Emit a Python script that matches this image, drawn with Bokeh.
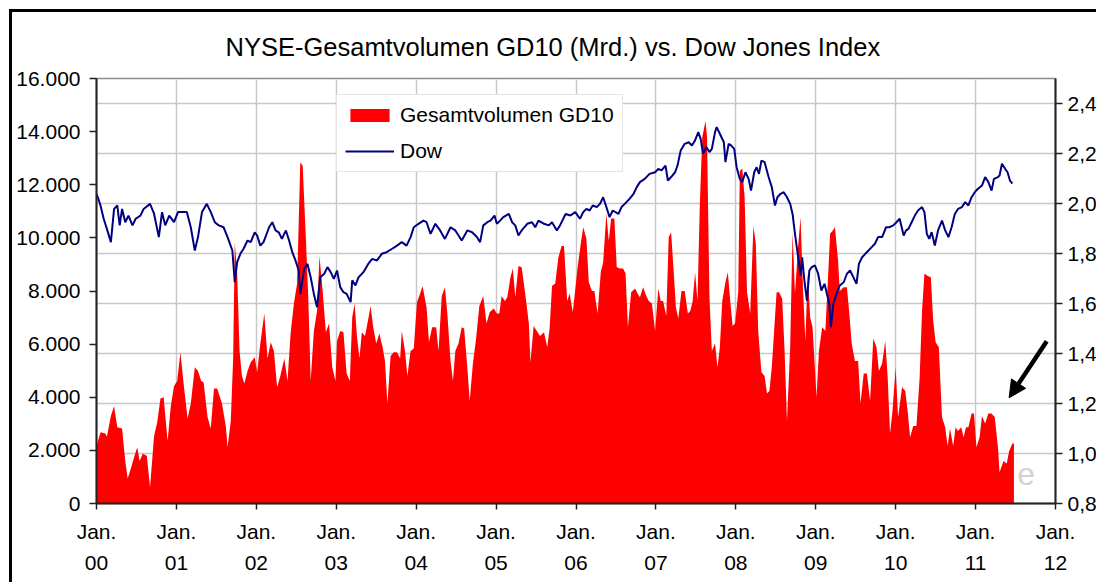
from bokeh.plotting import figure
from bokeh.models import Range1d, LinearAxis, FixedTicker, Arrow, NormalHead, Label
from bokeh.embed import file_html
from bokeh.resources import INLINE

FONT = "Liberation Sans"

# ---------------- data ----------------
title_text = "NYSE-Gesamtvolumen GD10 (Mrd.) vs. Dow Jones Index"
years = list(range(2000, 2013))
x_month_labels = ["Jan."] * 13
x_year_labels = ["00", "01", "02", "03", "04", "05", "06", "07", "08", "09", "10", "11", "12"]
left_ticks = [0, 2000, 4000, 6000, 8000, 10000, 12000, 14000, 16000]
left_labels = ["0", "2.000", "4.000", "6.000", "8.000", "10.000", "12.000", "14.000", "16.000"]
right_ticks = [0.8, 1.0, 1.2, 1.4, 1.6, 1.8, 2.0, 2.2, 2.4]
right_labels = ["0,8", "1,0", "1,2", "1,4", "1,6", "1,8", "2,0", "2,2", "2,4"]

# NYSE total volume, 10-day average (billions)
vol_year = [
    2000.00, 2000.05, 2000.11, 2000.13, 2000.18, 2000.22, 2000.26, 2000.32, 2000.36, 2000.39,
    2000.43, 2000.47, 2000.51, 2000.54, 2000.58, 2000.63, 2000.67, 2000.72, 2000.76, 2000.80,
    2000.84, 2000.89, 2000.93, 2000.97,
    2001.01, 2001.05, 2001.09, 2001.14, 2001.18, 2001.23, 2001.27, 2001.31, 2001.34, 2001.39,
    2001.43, 2001.47, 2001.51, 2001.57, 2001.62, 2001.64, 2001.68, 2001.71, 2001.73, 2001.76,
    2001.79, 2001.82, 2001.85, 2001.89, 2001.93, 2001.98,
    2002.01, 2002.05, 2002.10, 2002.14, 2002.18, 2002.22, 2002.26, 2002.30, 2002.35, 2002.39,
    2002.43, 2002.47, 2002.51, 2002.55, 2002.58, 2002.62, 2002.65, 2002.68, 2002.72, 2002.76,
    2002.79, 2002.83, 2002.87, 2002.91, 2002.95, 2002.99,
    2003.01, 2003.05, 2003.09, 2003.13, 2003.17, 2003.20, 2003.23, 2003.26, 2003.29, 2003.32,
    2003.36, 2003.39, 2003.43, 2003.46, 2003.50, 2003.54, 2003.58, 2003.61, 2003.64, 2003.68,
    2003.72, 2003.76, 2003.80, 2003.82, 2003.86, 2003.89, 2003.93, 2003.97,
    2004.01, 2004.05, 2004.08, 2004.13, 2004.16, 2004.20, 2004.25, 2004.28, 2004.32, 2004.36,
    2004.39, 2004.43, 2004.46, 2004.49, 2004.53, 2004.57, 2004.60, 2004.64, 2004.67, 2004.71,
    2004.75, 2004.79, 2004.84, 2004.88, 2004.92, 2004.97,
    2005.01, 2005.04, 2005.07, 2005.11, 2005.14, 2005.18, 2005.21, 2005.24, 2005.28, 2005.32,
    2005.37, 2005.41, 2005.43, 2005.47, 2005.51, 2005.55, 2005.60, 2005.64, 2005.67, 2005.70,
    2005.74, 2005.78, 2005.82, 2005.85, 2005.89, 2005.92, 2005.96,
    2006.02, 2006.06, 2006.09, 2006.13, 2006.16, 2006.20, 2006.23, 2006.27, 2006.31, 2006.34,
    2006.38, 2006.41, 2006.44, 2006.48, 2006.51, 2006.55, 2006.59, 2006.62, 2006.65, 2006.69,
    2006.74, 2006.77, 2006.80, 2006.84, 2006.88, 2006.91, 2006.95, 2006.99,
    2007.03, 2007.06, 2007.09, 2007.13, 2007.16, 2007.19, 2007.22, 2007.25, 2007.28, 2007.32,
    2007.36, 2007.40, 2007.43, 2007.46, 2007.49, 2007.52, 2007.55, 2007.58, 2007.62, 2007.64,
    2007.67, 2007.70, 2007.74, 2007.77, 2007.80, 2007.83, 2007.87, 2007.90, 2007.93, 2007.96,
    2007.99,
    2008.03, 2008.05, 2008.08, 2008.11, 2008.14, 2008.18, 2008.22, 2008.25, 2008.28, 2008.32,
    2008.36, 2008.39, 2008.42, 2008.45, 2008.49, 2008.51, 2008.54, 2008.58, 2008.61, 2008.64,
    2008.68, 2008.71, 2008.74, 2008.78, 2008.81, 2008.84, 2008.87, 2008.90, 2008.93, 2008.96,
    2009.01, 2009.04, 2009.08, 2009.12, 2009.15, 2009.18, 2009.21, 2009.24, 2009.28, 2009.30,
    2009.35, 2009.39, 2009.42, 2009.45, 2009.49, 2009.53, 2009.56, 2009.60, 2009.64, 2009.68,
    2009.72, 2009.76, 2009.79, 2009.83, 2009.87, 2009.90, 2009.93, 2009.96,
    2010.00, 2010.03, 2010.08, 2010.12, 2010.15, 2010.18, 2010.22, 2010.26, 2010.30, 2010.33,
    2010.36, 2010.40, 2010.44, 2010.47, 2010.50, 2010.54, 2010.58, 2010.62, 2010.65, 2010.68,
    2010.72, 2010.75, 2010.78, 2010.82, 2010.85, 2010.88, 2010.91, 2010.95, 2010.98,
    2011.01, 2011.05, 2011.08, 2011.12, 2011.16, 2011.20, 2011.24, 2011.28, 2011.30, 2011.35,
    2011.39, 2011.42, 2011.46, 2011.48,
]
vol_value = [
    1.03, 1.085, 1.08, 1.067, 1.15, 1.19, 1.105, 1.10, 0.97, 0.90,
    0.94, 0.985, 1.025, 0.97, 1.00, 0.99, 0.865, 1.07, 1.125, 1.22,
    1.225, 1.05, 1.19, 1.27,
    1.29, 1.405, 1.28, 1.14, 1.20, 1.345, 1.33, 1.29, 1.285, 1.145,
    1.10, 1.26, 1.26, 1.20, 1.105, 1.025, 1.13, 1.38, 1.845, 1.725,
    1.41, 1.31, 1.28, 1.33, 1.365, 1.385,
    1.325, 1.44, 1.56, 1.38, 1.445, 1.41, 1.265, 1.31, 1.38, 1.29,
    1.485, 1.60, 1.68, 2.165, 2.15, 1.86, 1.625, 1.29, 1.49, 1.57,
    1.79, 1.65, 1.485, 1.52, 1.345, 1.29,
    1.45, 1.49, 1.485, 1.32, 1.29, 1.545, 1.60, 1.465, 1.38, 1.485,
    1.47, 1.52, 1.59, 1.51, 1.44, 1.48, 1.425, 1.37, 1.20, 1.39,
    1.405, 1.405, 1.38, 1.49, 1.41, 1.31, 1.41, 1.42,
    1.605, 1.64, 1.67, 1.585, 1.445, 1.505, 1.505, 1.41, 1.63, 1.665,
    1.56, 1.37, 1.29, 1.41, 1.44, 1.505, 1.50, 1.345, 1.21, 1.36,
    1.46, 1.59, 1.63, 1.52, 1.565, 1.58,
    1.56, 1.56, 1.63, 1.61, 1.625, 1.705, 1.74, 1.625, 1.75, 1.745,
    1.625, 1.52, 1.365, 1.51, 1.49, 1.47, 1.485, 1.425, 1.50, 1.67,
    1.68, 1.785, 1.83, 1.83, 1.61, 1.64, 1.565,
    1.745, 1.84, 1.905, 1.86, 1.685, 1.65, 1.65, 1.56, 1.725, 1.765,
    1.96, 1.85, 1.94, 1.94, 1.745, 1.74, 1.74, 1.72, 1.505, 1.645,
    1.66, 1.64, 1.625, 1.665, 1.63, 1.61, 1.60, 1.49,
    1.66, 1.61, 1.61, 1.55, 1.865, 1.885, 1.74, 1.585, 1.54, 1.65,
    1.65, 1.56, 1.57, 1.61, 1.725, 1.61, 2.00, 2.265, 2.33, 2.265,
    1.625, 1.41, 1.44, 1.345, 1.425, 1.61, 1.685, 1.725, 1.61, 1.51,
    1.52,
    1.645, 2.13, 2.14, 2.025, 1.645, 1.56, 1.91, 1.84, 1.49, 1.325,
    1.31, 1.24, 1.25, 1.345, 1.545, 1.645, 1.645, 1.62, 1.41, 1.13,
    1.425, 1.885, 1.64, 1.83, 1.945, 1.665, 1.45, 1.72, 1.545, 1.505,
    1.225, 1.41, 1.505, 1.49, 1.68, 1.88, 1.89, 1.905, 1.77, 1.65,
    1.665, 1.665, 1.56, 1.44, 1.37, 1.37, 1.20, 1.32, 1.32, 1.21,
    1.46, 1.425, 1.33, 1.36, 1.45, 1.305, 1.08, 1.17,
    1.345, 1.145, 1.265, 1.25, 1.17, 1.065, 1.11, 1.11, 1.305, 1.57,
    1.72, 1.71, 1.705, 1.53, 1.445, 1.425, 1.145, 1.105, 1.03, 1.10,
    1.03, 1.105, 1.09, 1.105, 1.065, 1.105, 1.105, 1.16, 1.16,
    1.025, 1.065, 1.15, 1.12, 1.16, 1.16, 1.145, 1.025, 0.925, 0.97,
    0.96, 1.01, 1.04, 1.04,
]

# Dow Jones Industrial Average
dow_year = [
    2000.00, 2000.02, 2000.05, 2000.09, 2000.13, 2000.18, 2000.22, 2000.26, 2000.29, 2000.32,
    2000.36, 2000.40, 2000.45, 2000.49, 2000.55, 2000.59, 2000.67, 2000.72, 2000.78, 2000.82,
    2000.86, 2000.91, 2000.97,
    2001.02, 2001.07, 2001.13, 2001.18, 2001.23, 2001.27, 2001.32, 2001.38, 2001.43, 2001.48,
    2001.53, 2001.59, 2001.64, 2001.70, 2001.73, 2001.76, 2001.80, 2001.84, 2001.89, 2001.93,
    2001.98,
    2002.01, 2002.05, 2002.09, 2002.16, 2002.20, 2002.24, 2002.28, 2002.32, 2002.37, 2002.41,
    2002.45, 2002.49, 2002.53, 2002.55, 2002.60, 2002.64, 2002.68, 2002.72, 2002.76, 2002.80,
    2002.85, 2002.89, 2002.93, 2002.97,
    2003.01, 2003.05, 2003.09, 2003.13, 2003.18, 2003.20, 2003.24, 2003.28, 2003.34, 2003.40,
    2003.45, 2003.51, 2003.57, 2003.63, 2003.70, 2003.76, 2003.82, 2003.88, 2003.93, 2003.97,
    2004.03, 2004.09, 2004.13, 2004.18, 2004.24, 2004.30, 2004.36, 2004.43, 2004.49, 2004.57,
    2004.64, 2004.70, 2004.76, 2004.80, 2004.84, 2004.89, 2004.93, 2004.98,
    2005.01, 2005.05, 2005.09, 2005.16, 2005.20, 2005.24, 2005.28, 2005.32, 2005.39, 2005.45,
    2005.49, 2005.53, 2005.60, 2005.66, 2005.70, 2005.76, 2005.80, 2005.87, 2005.93, 2005.99,
    2006.05, 2006.09, 2006.13, 2006.17, 2006.21, 2006.26, 2006.30, 2006.34, 2006.38, 2006.42,
    2006.46, 2006.53, 2006.57, 2006.61, 2006.67, 2006.72, 2006.76, 2006.80, 2006.86, 2006.92,
    2006.99,
    2007.03, 2007.07, 2007.12, 2007.15, 2007.19, 2007.24, 2007.27, 2007.31, 2007.36, 2007.41,
    2007.45, 2007.49, 2007.53, 2007.56, 2007.59, 2007.63, 2007.67, 2007.70, 2007.74, 2007.76,
    2007.80, 2007.85, 2007.87, 2007.91, 2007.94, 2007.98,
    2008.01, 2008.05, 2008.08, 2008.12, 2008.16, 2008.19, 2008.23, 2008.26, 2008.29, 2008.32,
    2008.36, 2008.41, 2008.45, 2008.49, 2008.52, 2008.56, 2008.60, 2008.64, 2008.68, 2008.71,
    2008.74, 2008.78, 2008.81, 2008.83, 2008.86, 2008.89, 2008.92, 2008.95, 2008.99,
    2009.03, 2009.07, 2009.11, 2009.14, 2009.17, 2009.19, 2009.22, 2009.26, 2009.30, 2009.35,
    2009.39, 2009.43, 2009.47, 2009.51, 2009.54, 2009.58, 2009.62, 2009.66, 2009.70, 2009.74,
    2009.78, 2009.83, 2009.88, 2009.92, 2009.97,
    2010.01, 2010.05, 2010.10, 2010.13, 2010.16, 2010.20, 2010.24, 2010.28, 2010.33, 2010.36,
    2010.39, 2010.42, 2010.45, 2010.49, 2010.53, 2010.58, 2010.62, 2010.66, 2010.70, 2010.74,
    2010.78, 2010.83, 2010.87, 2010.91, 2010.95, 2010.99,
    2011.03, 2011.08, 2011.12, 2011.16, 2011.20, 2011.23, 2011.28, 2011.30, 2011.33, 2011.37,
    2011.40, 2011.43, 2011.46,
]
dow_value = [
    11650, 11500, 11220, 10720, 10340, 9840, 11090, 11220, 10470, 11090,
    10590, 10840, 10470, 10720, 10840, 11090, 11280, 10910, 10030, 10970,
    10470, 10840, 10590,
    10970, 10970, 10970, 10400, 9525, 10030, 10970, 11280, 10970, 10590,
    10470, 10400, 10030, 9525, 8330, 9085, 9400, 9590, 9900, 9840,
    10210,
    10090, 9710, 9840, 10400, 10590, 10280, 10210, 9960, 10280, 9900,
    9460, 9150, 8770, 7890, 8840, 9020, 8520, 7890, 7390, 8520,
    8650, 8900, 8710, 8460,
    8770, 8145, 7955, 7890, 7580, 8400, 8210, 8520, 8710, 9020,
    9210, 9150, 9400, 9460, 9590, 9710, 9840, 9710, 10030, 10400,
    10530, 10650, 10590, 10150, 10530, 10280, 9960, 10400, 10280, 9900,
    10280, 10210, 10030, 9840, 10470, 10590, 10650, 10840,
    10530, 10650, 10780, 10900, 10590, 10470, 10090, 10280, 10530, 10590,
    10400, 10650, 10530, 10470, 10590, 10280, 10470, 10900, 10840, 10970,
    10720, 10970, 11090, 11030, 11220, 11160, 11280, 11530, 11160, 10780,
    11030, 10900, 11160, 11280, 11470, 11660, 11910, 12100, 12220, 12410,
    12470,
    12600, 12540, 12720, 12160, 12290, 12470, 12720, 13290, 13540, 13600,
    13480, 13670, 13980, 13730, 13160, 13420, 13230, 13350, 13980, 14170,
    13920, 13600, 12850, 13540, 13480, 13350,
    12660, 12220, 12100, 12470, 12220, 11780, 12470, 12660, 12410, 12910,
    12850, 12290, 11910, 11220, 11530, 11660, 11720, 11530, 11280, 10900,
    10150, 9270, 8580, 9270, 8330, 7640, 8770, 8900, 8960,
    8650, 8020, 8270, 7890, 7520, 6640, 7520, 7890, 8210, 8330,
    8650, 8770, 8520, 8270, 9020, 9270, 9400, 9525, 9650, 9780,
    10030, 10030, 10400, 10400, 10470,
    10590, 10720, 10090, 10280, 10340, 10590, 10840, 11030, 11160, 10970,
    10150, 9960, 10215, 9710, 10280, 10650, 10280, 10030, 10400, 10900,
    11090, 11160, 11345, 11220, 11530, 11720,
    11850, 11970, 12290, 12100, 11780, 12220, 12290, 12350, 12790, 12600,
    12470, 12160, 12040,
]

# ---------------- figure ----------------
p = figure(
    width=1087, height=573,
    x_range=Range1d(2000, 2012), y_range=Range1d(0, 16000),
    output_backend="svg", toolbar_location=None,
    min_border_left=84, min_border_top=66, min_border_bottom=82, min_border_right=0,
    background_fill_color="white", border_fill_color="white",
)
p.styles = {"margin-left": "9px", "margin-top": "9px",
            "border-left": "3px solid black", "border-top": "3px solid black"}
p.extra_y_ranges = {"vol": Range1d(0.8, 2.5)}

p.outline_line_color = "#8c8c8c"
p.outline_line_width = 1.5

# title
p.title.text = title_text
p.title.text_font = FONT
p.title.text_font_size = "25.5px"
p.title.text_font_style = "normal"
p.title.text_color = "black"
p.title.align = "left"
p.title.offset = 129
p.title.vertical_align = "top"
p.title.standoff = 32

# grids
p.xgrid.ticker = FixedTicker(ticks=years)
p.ygrid.ticker = FixedTicker(ticks=right_ticks)
p.ygrid.y_range_name = "vol"
for g in (p.xgrid[0], p.ygrid[0]):
    g.grid_line_color = "#c8c8c8"
    g.grid_line_width = 1.5

# x axes (two rows of labels)
xa = p.xaxis[0]
xa.ticker = FixedTicker(ticks=years)
xa.major_label_overrides = dict(zip(years, x_month_labels))
xa2 = LinearAxis(ticker=FixedTicker(ticks=years),
                 major_label_overrides=dict(zip(years, x_year_labels)))
p.add_layout(xa2, "below")
xa.major_label_standoff = 10
xa2.major_label_standoff = 10
xa2.axis_line_color = None
xa2.major_tick_out = 0

# left axis (Dow)
ya = p.yaxis[0]
ya.ticker = FixedTicker(ticks=left_ticks)
ya.major_label_overrides = dict(zip(left_ticks, left_labels))
ya.major_label_standoff = 9
ya.major_tick_out = 7

# right axis (volume)
yr = LinearAxis(y_range_name="vol", ticker=FixedTicker(ticks=right_ticks),
                major_label_overrides=dict(zip(right_ticks, right_labels)))
p.add_layout(yr, "right")
yr.major_label_standoff = 5
yr.major_tick_out = 7

for ax in (xa, xa2, ya, yr):
    ax.major_label_text_font = FONT
    ax.major_label_text_font_size = "21px"
    ax.major_label_text_color = "black"
    ax.minor_tick_line_color = None
    ax.major_tick_in = 0
    ax.major_tick_line_width = 1.5
    ax.major_tick_line_color = "#222222"
    if ax is not xa2:
        ax.axis_line_color = "#222222"
        ax.axis_line_width = 2
xa2.major_tick_line_color = None

# watermark (behind data)
p.add_layout(Label(x=2011.52, y=715, text="e", text_font=FONT, text_font_size="32px",
                   text_color="#d2d2d2", level="underlay"))

# series
p.varea(x=vol_year, y1=0.8, y2=vol_value, y_range_name="vol",
        fill_color="#FF0000", legend_label="Gesamtvolumen GD10")
p.line(x=dow_year, y=dow_value, line_color="#000080", line_width=2, legend_label="Dow")

# arrow
p.add_layout(Arrow(end=NormalHead(size=17, fill_color="black", line_color="black"),
                   x_start=2011.89, y_start=6110, x_end=2011.42, y_end=3979,
                   line_color="black", line_width=4.5))

# legend
lg = p.legend[0]
lg.location = (240, 331)
lg.label_text_font = FONT
lg.label_text_font_size = "21px"
lg.label_text_color = "black"
lg.glyph_width = 49
lg.glyph_height = 16
lg.label_standoff = 6
lg.padding = 8
lg.spacing = 12
lg.margin = 0
lg.border_line_color = "#cccccc"
lg.border_line_width = 1.5
lg.background_fill_color = "white"
lg.background_fill_alpha = 1.0

open("out.html", "w").write(file_html(p, INLINE))
